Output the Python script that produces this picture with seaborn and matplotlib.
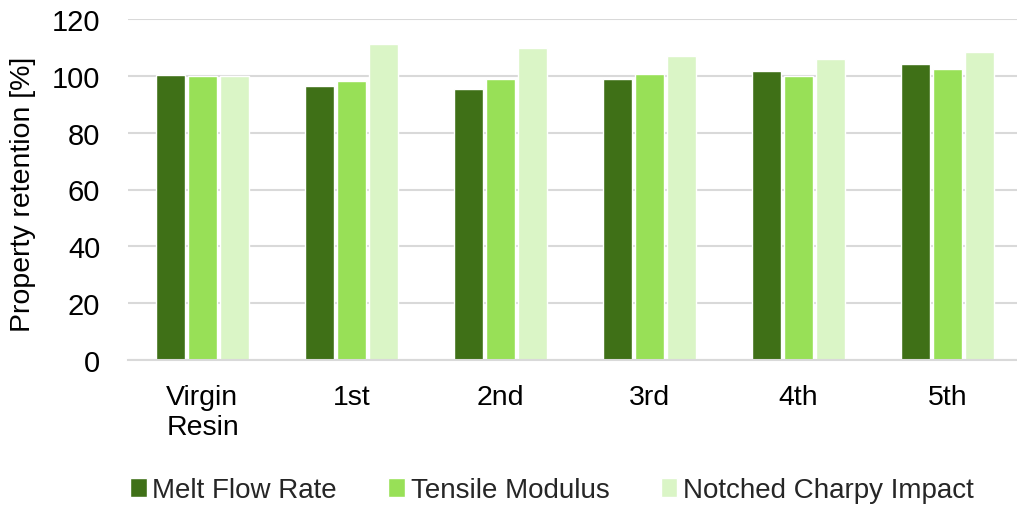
import matplotlib
matplotlib.use("Agg")
import matplotlib.pyplot as plt
import seaborn as sns
import pandas as pd

# Property retention after repeated reprocessing cycles
cycles = ["Virgin\nResin", "1st", "2nd", "3rd", "4th", "5th"]
melt_flow_rate = [100.4, 96.5, 95.2, 99.0, 101.7, 104.3]
tensile_modulus = [100.1, 98.3, 98.9, 100.5, 99.9, 102.3]
notched_charpy = [100.0, 111.2, 109.7, 106.9, 105.8, 108.4]
series_names = ["Melt Flow Rate", "Tensile Modulus", "Notched Charpy Impact"]
colors = ["#3F7017", "#98E057", "#DAF5C6"]

df = pd.DataFrame({
    "cycle": cycles * 3,
    "value": melt_flow_rate + tensile_modulus + notched_charpy,
    "property": [n for n in series_names for _ in cycles],
})

sns.set_theme(style="white")
plt.rcParams["font.family"] = ["Liberation Sans", "DejaVu Sans"]

fig = plt.figure(figsize=(10.17, 5.06), dpi=100)
ax = fig.add_axes([128 / 1017, 1 - 361 / 506, (1017 - 128) / 1017, (361 - 20) / 506])

sns.barplot(data=df, x="cycle", y="value", hue="property", order=cycles,
            hue_order=series_names, palette=colors, width=0.64, gap=0.1,
            saturation=1, errorbar=None, ax=ax, legend=True)

ax.set_ylim(0, 120)
ax.set_yticks(range(0, 121, 20))
ax.set_xlim(-0.5, 5.466)
ax.yaxis.grid(True, color="#D9D9D9", linewidth=1.5)
ax.set_axisbelow(True)
for side in ["left", "right", "top"]:
    ax.spines[side].set_visible(False)
ax.spines["bottom"].set_color("#D9D9D9")
ax.spines["bottom"].set_linewidth(1.5)

ax.tick_params(axis="y", length=0, pad=20, labelsize=21, colors="black")
ax.tick_params(axis="x", length=0, pad=17, labelsize=20.5, colors="black")
for lbl in ax.get_xticklabels():
    lbl.set_linespacing(1.2)
    lbl.set_multialignment("left")
ax.set_xlabel("")
ax.set_ylabel("Property retention [%]", fontsize=20.5, color="black")
ax.yaxis.set_label_coords(-0.104, 0.49)

handles, labels = ax.get_legend_handles_labels()
ax.get_legend().remove()
fig.legend(handles, labels, loc="center", bbox_to_anchor=(552 / 1017, 1 - 491 / 506),
           ncol=3, frameon=False, fontsize=20, handlelength=0.6, handleheight=0.7,
           handletextpad=0.2, columnspacing=1.85)

fig.savefig("out.png", dpi=100)
